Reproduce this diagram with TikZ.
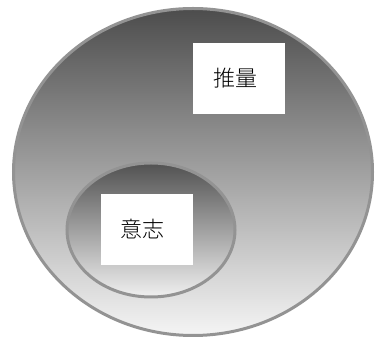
\documentclass[tikz,border=0pt]{standalone}
\usepackage{fontspec}
\newfontfamily\cjk{Noto Sans CJK JP Light}
\usetikzlibrary{shapes.geometric}
\begin{document}
\begin{tikzpicture}[x=1pt,y=1pt,
  oval/.style={ellipse, draw=gray!85!white, line width=3pt, inner sep=0pt, top color=black!70, bottom color=white!96!black, shading=axis},
  label box/.style={rectangle, fill=white, draw=none, inner sep=0pt, font=\cjk\fontsize{22}{22}\selectfont}
]
\useasboundingbox (0,0) rectangle (375,339);
\node[oval, minimum width=359pt, minimum height=327pt] (outer) at (193,167) {};
\node[oval, minimum width=168pt, minimum height=134pt, top color=black!68, bottom color=white!94!black] (inner) at (151,109) {};
\node[label box, minimum width=92pt, minimum height=71pt] (suiryo) at (239,260.5) {\hspace*{-8pt}\raisebox{-3pt}{推量}};
\node[label box, minimum width=92pt, minimum height=71pt] (ishi) at (147,109.5) {\hspace*{-10pt}\raisebox{-3pt}{意志}};
\end{tikzpicture}
\end{document}
